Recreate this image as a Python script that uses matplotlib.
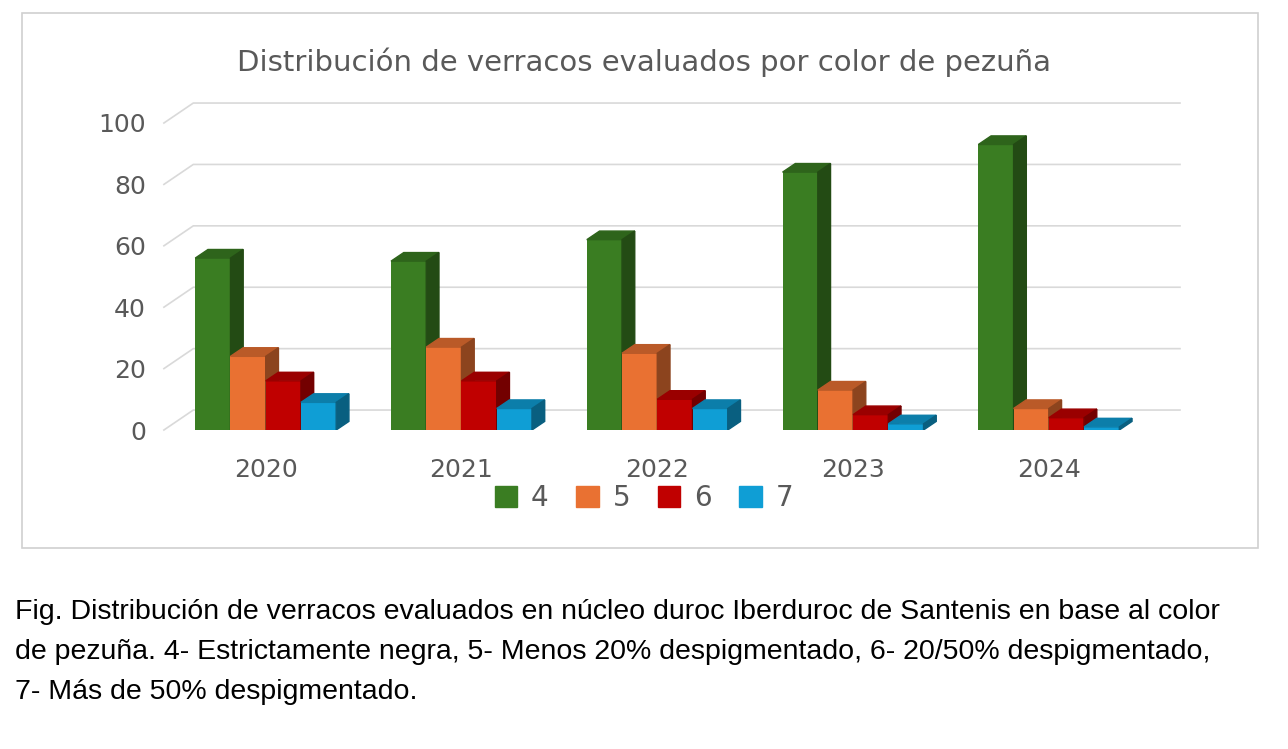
import matplotlib.pyplot as plt
import numpy as np
from matplotlib.patches import Polygon, Rectangle
import matplotlib.colors as mcolors

years = ["2020", "2021", "2022", "2023", "2024"]
series = ["4", "5", "6", "7"]
v4 = [56, 55, 62, 84, 93]
v5 = [24, 27, 25, 13, 7]
v6 = [16, 16, 10, 5, 4]
v7 = [9, 7, 7, 2, 1]
values = [v4, v5, v6, v7]
colors = ["#3a7d22", "#e97132", "#c00000", "#0f9ed5"]

def shade(c, f):
    r, g, b = mcolors.to_rgb(c)
    return (r * f, g * f, b * f)

fig = plt.figure(figsize=(12.88, 7.49), dpi=100)
fig.patches.append(Rectangle((22 / 1288, 1 - 548 / 749), 1236 / 1288, 535 / 749,
                             transform=fig.transFigure, fill=False, edgecolor="#d0d0d0", lw=1.2))
ax = fig.add_axes([160 / 1288, 1 - 430 / 749, 1020 / 1288, 307 / 749])
ax.set_xlim(-0.54, 4.67)
ax.set_ylim(0, 100)
for s in ax.spines.values():
    s.set_visible(False)

w = 0.18
ddx, ddy = 0.065, 2.8
gx, gy = 0.15, 6.5
for t in range(0, 101, 20):
    ax.plot([-0.54 + 0.02, -0.54 + 0.02 + gx, 4.67], [t, t + gy, t + gy], color="#d9d9d9", lw=1.2,
            clip_on=False, zorder=0)

x = np.arange(len(years))
for i, (vals, c) in enumerate(zip(values, colors)):
    xs = x + (i - 1.5) * w
    ax.bar(xs, vals, width=w, color=c, zorder=2 + i)
    for xc, v in zip(xs, vals):
        l, r = xc - w / 2, xc + w / 2
        ax.add_patch(Polygon([(l, v), (r, v), (r + ddx, v + ddy), (l + ddx, v + ddy)],
                             color=shade(c, 0.8), zorder=2 + i))
        ax.add_patch(Polygon([(r, 0), (r + ddx, ddy), (r + ddx, v + ddy), (r, v)],
                             color=shade(c, 0.6), zorder=2 + i))

ax.set_yticks(range(0, 101, 20))
ax.set_xticks(x)
ax.set_xticklabels(years)
ax.tick_params(length=0, labelsize=18, colors="#595959", pad=10)
ax.tick_params(axis="x", pad=20)

fig.text(0.5, 1 - 62 / 749, "Distribución de verracos evaluados por color de pezuña",
         ha="center", va="center", fontsize=21, color="#595959")
handles = [Rectangle((0, 0), 1, 1, color=c) for c in colors]
fig.legend(handles, series, loc="center", bbox_to_anchor=(0.5, 1 - 498 / 749), ncol=4,
           frameon=False, fontsize=20, handlelength=0.8, handleheight=0.8, columnspacing=1.0,
           handletextpad=0.5, labelcolor="#595959")

caption = ["Fig. Distribución de verracos evaluados en núcleo duroc Iberduroc de Santenis en base al color",
           "de pezuña. 4- Estrictamente negra, 5- Menos 20% despigmentado, 6- 20/50% despigmentado,",
           "7- Más de 50% despigmentado."]
for k, line in enumerate(caption):
    fig.text(15 / 1288, 1 - (612 + 40 * k) / 749, line, ha="left", va="center",
             fontsize=20.5, family="Liberation Sans", color="black")

fig.savefig("out.png")
